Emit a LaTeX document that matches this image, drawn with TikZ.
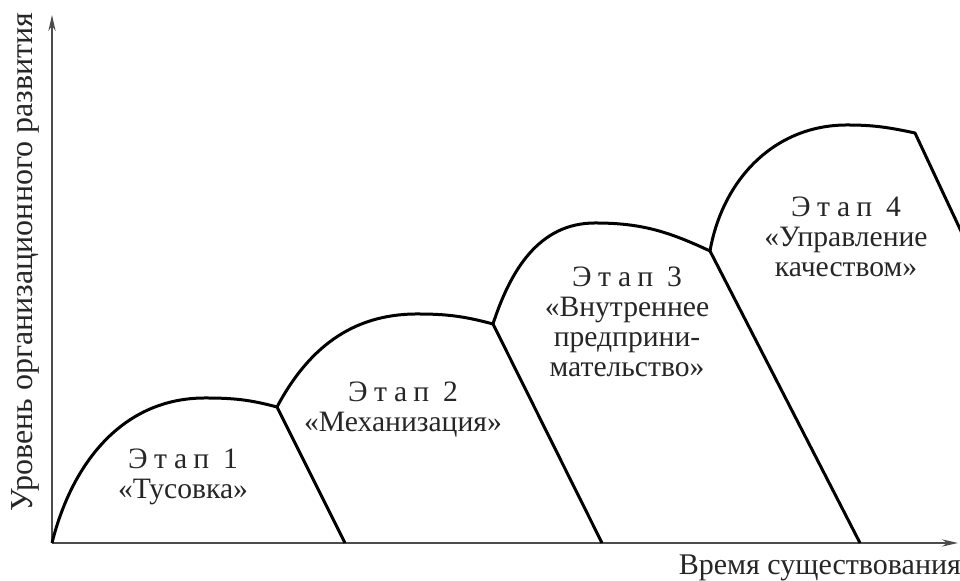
\documentclass[tikz,border=0pt]{standalone}
\usepackage{fontspec}
\setmainfont{Liberation Serif}
\newfontfamily\spacedfont[LetterSpace=22]{Liberation Serif}
\usetikzlibrary{arrows.meta}
\newcommand{\etap}[1]{{\spacedfont Этап\ #1}}

\begin{document}
\begin{tikzpicture}[x=0.5pt, y=0.5pt,
  axis/.style={draw=black!70, line width=0.8pt, -{Stealth[length=8pt, width=3.6pt]}},
  curve/.style={line width=1.5pt, line join=round},
  stage/.style={align=center, font=\fontsize{14.8}{15}\selectfont, text=black!85, inner sep=0pt}]
\clip (0,0) rectangle (960,581);
% Points
\coordinate (O) at (52,38);
\coordinate (j1) at (277,174);
\coordinate (j2) at (493,257);
\coordinate (j3) at (710,330);
\coordinate (c4) at (915,448);
\coordinate (b1) at (345,38);
\coordinate (b2) at (602,38);
\coordinate (b3) at (860,38);
\coordinate (b4) at (1012,241);
% Axes
\draw[axis] (O) -- (52,566);
\draw[axis] (O) -- (958,38);
\node[rotate=90, font=\fontsize{16}{17}\selectfont, text=black!85] (ylab) at (25,319) {Уровень организационного развития};
\node[anchor=east, font=\fontsize{15}{16}\selectfont, text=black!85] (xlab) at (968,13) {Время существования};
% Stage 1
\draw[curve] (O) to[out=76, in=180] (205,183) to[out=0, in=165] (j1) -- (b1);
\node[stage] (s1) at (183,104) {\etap{1}\\«Тусовка»};
% Stage 2
\draw[curve] (j1) to[out=62, in=180] (417,267) to[out=0, in=165] (j2) -- (b2);
\node[stage] (s2) at (403,171) {\etap{2}\\«Механизация»};
% Stage 3
\draw[curve] (j2) to[out=72, in=180] (595,358) to[out=0, in=155] (j3) -- (b3);
\node[stage] (s3) at (627,259) {\etap{3}\\«Внутреннее\\предприни-\\мательство»};
% Stage 4
\draw[curve] (j3) to[out=80, in=180] (847,456) to[out=0, in=168] (c4) -- (b4);
\node[stage] (s4) at (846,344) {\etap{4}\\«Управление\\качеством»};
\end{tikzpicture}
\end{document}
